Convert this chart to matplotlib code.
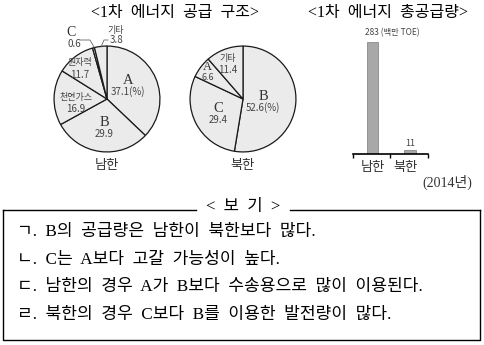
import matplotlib.pyplot as plt

plt.rcParams['font.family'] = ['Liberation Serif', 'Noto Sans CJK KR', 'DejaVu Sans']

# data
south_labels = ['A', 'B', '천연가스', '원자력', 'C', '기타']
south_share = [37.1, 29.9, 16.9, 11.7, 0.6, 3.8]
north_labels = ['B', 'C', 'A', '기타']
north_share = [52.6, 29.4, 6.6, 11.4]
regions = ['남한', '북한']
total_supply = [283, 11]
statements = [
    'ㄱ. B의 공급량은 남한이 북한보다 많다.',
    'ㄴ. C는 A보다 고갈 가능성이 높다.',
    'ㄷ. 남한의 경우 A가 B보다 수송용으로 많이 이용된다.',
    'ㄹ. 북한의 경우 C보다 B를 이용한 발전량이 많다.',
]

W, H = 485, 345
fig = plt.figure(figsize=(W / 100, H / 100), dpi=100)
fig.patch.set_facecolor('white')

SANS = ['Noto Sans CJK KR', 'DejaVu Sans']
SERIF = ['Liberation Serif', 'Noto Sans CJK KR']


def px_axes(x0, y0, x1, y1):
    # axes from pixel box (top-left origin)
    return fig.add_axes([x0 / W, 1 - y1 / H, (x1 - x0) / W, (y1 - y0) / H])


def draw_pie(cx, cy, r, vals):
    ax = px_axes(cx - r, cy - r, cx + r, cy + r)
    ax.pie(vals, startangle=90, counterclock=False, radius=1,
           colors=['#ebebeb'] * len(vals),
           wedgeprops=dict(edgecolor='#1a1a1a', linewidth=0.9))
    ax.set_xlim(-1.02, 1.02)
    ax.set_ylim(-1.02, 1.02)
    ax.set_aspect('equal')
    ax.axis('off')


draw_pie(107, 99, 54, south_share)
draw_pie(243, 99, 54, north_share)

# bar chart
bx = px_axes(353, 42, 428, 154)
bx.bar([0, 1], total_supply, width=0.3, color='#a8a8a8', edgecolor='#8a8a8a', linewidth=0.6)
bx.set_xlim(-0.52, 1.48)
bx.set_ylim(0, 283)
for s in ['top', 'left', 'right']:
    bx.spines[s].set_visible(False)
bx.spines['bottom'].set_linewidth(1.2)
bx.set_yticks([])
bx.set_xticks([-0.52, 0.47, 1.48])
bx.set_xticklabels([])
bx.tick_params(axis='x', direction='out', length=3, width=1)
bx.patch.set_alpha(0)

# overlay for text
ov = fig.add_axes([0, 0, 1, 1])
ov.set_xlim(0, W)
ov.set_ylim(H, 0)
ov.axis('off')
ov.set_zorder(10)
ov.patch.set_alpha(0)

ov.text(175, 13, '<1차  에너지  공급  구조>', ha='center', va='center', fontsize=11.5, family=SERIF)
ov.text(388, 13, '<1차  에너지  총공급량>', ha='center', va='center', fontsize=11.5, family=SERIF)

gray = '#444444'


def pie_label(x, y, head, val, head_serif=True, hs=10.5):
    if head_serif:
        ov.text(x, y, head, ha='center', va='center', fontsize=hs, family=SERIF, color='#333333')
    else:
        ov.text(x, y, head, ha='center', va='center', fontsize=6.5, family=SANS, color=gray)
    ov.text(x, y + 12, val, ha='center', va='center', fontsize=7, family=SANS, color=gray)


# south korea pie labels
pie_label(128, 80, south_labels[0], f'{south_share[0]}(%)')
pie_label(104, 122, south_labels[1], f'{south_share[1]}')
pie_label(76, 97, south_labels[2], f'{south_share[2]}', head_serif=False)
pie_label(80, 63, south_labels[3], f'{south_share[3]}', head_serif=False)
ov.text(71, 33, south_labels[4], ha='center', va='center', fontsize=10, family=SERIF, color='#333333')
ov.text(74, 44, f'{south_share[4]}', ha='center', va='center', fontsize=7, family=SANS, color=gray)
ov.plot([80, 90, 94], [40, 40, 47], color='#666666', lw=0.6)
ov.text(116, 30, south_labels[5], ha='center', va='center', fontsize=6.5, family=SANS, color=gray)
ov.text(117, 40, f'{south_share[5]}', ha='center', va='center', fontsize=7, family=SANS, color=gray)
ov.plot([101, 104, 108], [47, 40, 40], color='#666666', lw=0.6)
ov.text(107, 165, regions[0], ha='center', va='center', fontsize=9.5, family=SANS, color='#333333')

# north korea pie labels
pie_label(263, 96, north_labels[0], f'{north_share[0]}(%)')
pie_label(218, 108, north_labels[1], f'{north_share[1]}')
ov.text(207, 66.5, north_labels[2], ha='center', va='center', fontsize=9, family=SERIF, color='#333333')
ov.text(208, 78, f'{north_share[2]}', ha='center', va='center', fontsize=6.5, family=SANS, color=gray)
ov.text(228, 59, north_labels[3], ha='center', va='center', fontsize=6.5, family=SANS, color=gray)
ov.text(228, 70, f'{north_share[3]}', ha='center', va='center', fontsize=7, family=SANS, color=gray)
ov.text(243, 165, regions[1], ha='center', va='center', fontsize=9.5, family=SANS, color='#333333')

# bar labels
ov.text(392, 33, f'{total_supply[0]} (백만 TOE)', ha='center', va='center', fontsize=6, family=SANS, color=gray)
ov.text(410, 144, f'{total_supply[1]}', ha='center', va='center', fontsize=6.5, family=SANS, color=gray)
ov.text(373, 168, regions[0], ha='center', va='center', fontsize=9.5, family=SANS, color='#333333')
ov.text(406, 168, regions[1], ha='center', va='center', fontsize=9.5, family=SANS, color='#333333')
ov.text(447, 182, '(2014년)', ha='center', va='center', fontsize=10, family=SERIF, color='#333333')

# box with statements
ov.plot([3, 3, 480, 480], [210, 340, 340, 210], color='black', lw=1)
ov.plot([3, 196], [210, 210], color='black', lw=1)
ov.plot([290, 480], [210, 210], color='black', lw=1)
ov.text(243, 207, '<  보  기  >', ha='center', va='center', fontsize=12, family=SERIF)
for i, s in enumerate(statements):
    ov.text(17, 232 + i * 27.7, s.replace(' ', '  '), ha='left', va='center', fontsize=12.3, family=SERIF)

fig.savefig('out.png', dpi=100)
